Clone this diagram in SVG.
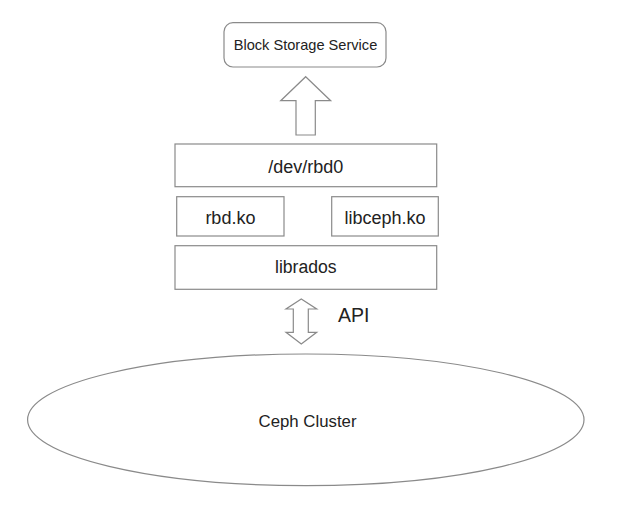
<svg xmlns="http://www.w3.org/2000/svg" width="621" height="509" viewBox="0 0 621 509">
<style>
.box{fill:#fff;stroke:#8a8a8a;stroke-width:1.2}
.arr{fill:#fff;stroke:#8a8a8a;stroke-width:1.2;stroke-linejoin:miter}
text{font-family:"Liberation Sans",Arial,Helvetica,sans-serif;fill:#222;text-anchor:middle}
</style>
<rect width="621" height="509" fill="#fff"/>
<g id="block-storage-service">
<rect class="box" x="224" y="22.7" width="162" height="44.3" rx="9"/>
<text x="305.5" y="49.5" font-size="14.6">Block Storage Service</text>
</g>
<g id="dev-rbd0">
<rect class="box" x="175" y="144" width="261.7" height="42.7"/>
<text x="305.8" y="173.3" font-size="18">/dev/rbd0</text>
</g>
<g id="rbd-ko">
<rect class="box" x="176.7" y="196.7" width="107.3" height="39.3"/>
<text x="230.4" y="224.3" font-size="18">rbd.ko</text>
</g>
<g id="libceph-ko">
<rect class="box" x="331.7" y="196.7" width="106.6" height="39.3"/>
<text x="385" y="224.3" font-size="18">libceph.ko</text>
</g>
<g id="librados">
<rect class="box" x="175" y="245.7" width="261.7" height="43.6"/>
<text x="305.8" y="273.3" font-size="17.6">librados</text>
</g>
<g id="ceph-cluster">
<ellipse class="box" cx="305.8" cy="419.8" rx="278.2" ry="65.8"/>
<text x="307.5" y="426.7" font-size="16.8">Ceph Cluster</text>
</g>
<g id="connectors">
<polygon class="arr" points="305.7,76.7 330.7,100.7 315.3,100.7 315.3,135 296,135 296,100.7 280.7,100.7"/>
<polygon class="arr" points="301.3,299 316.7,309 308.3,309 308.3,332.3 316.7,332.3 301.3,344 286,332.3 293.3,332.3 293.3,309 286,309"/>
<text x="338" y="322.3" font-size="19.5" style="text-anchor:start">API</text>
</g>
</svg>
